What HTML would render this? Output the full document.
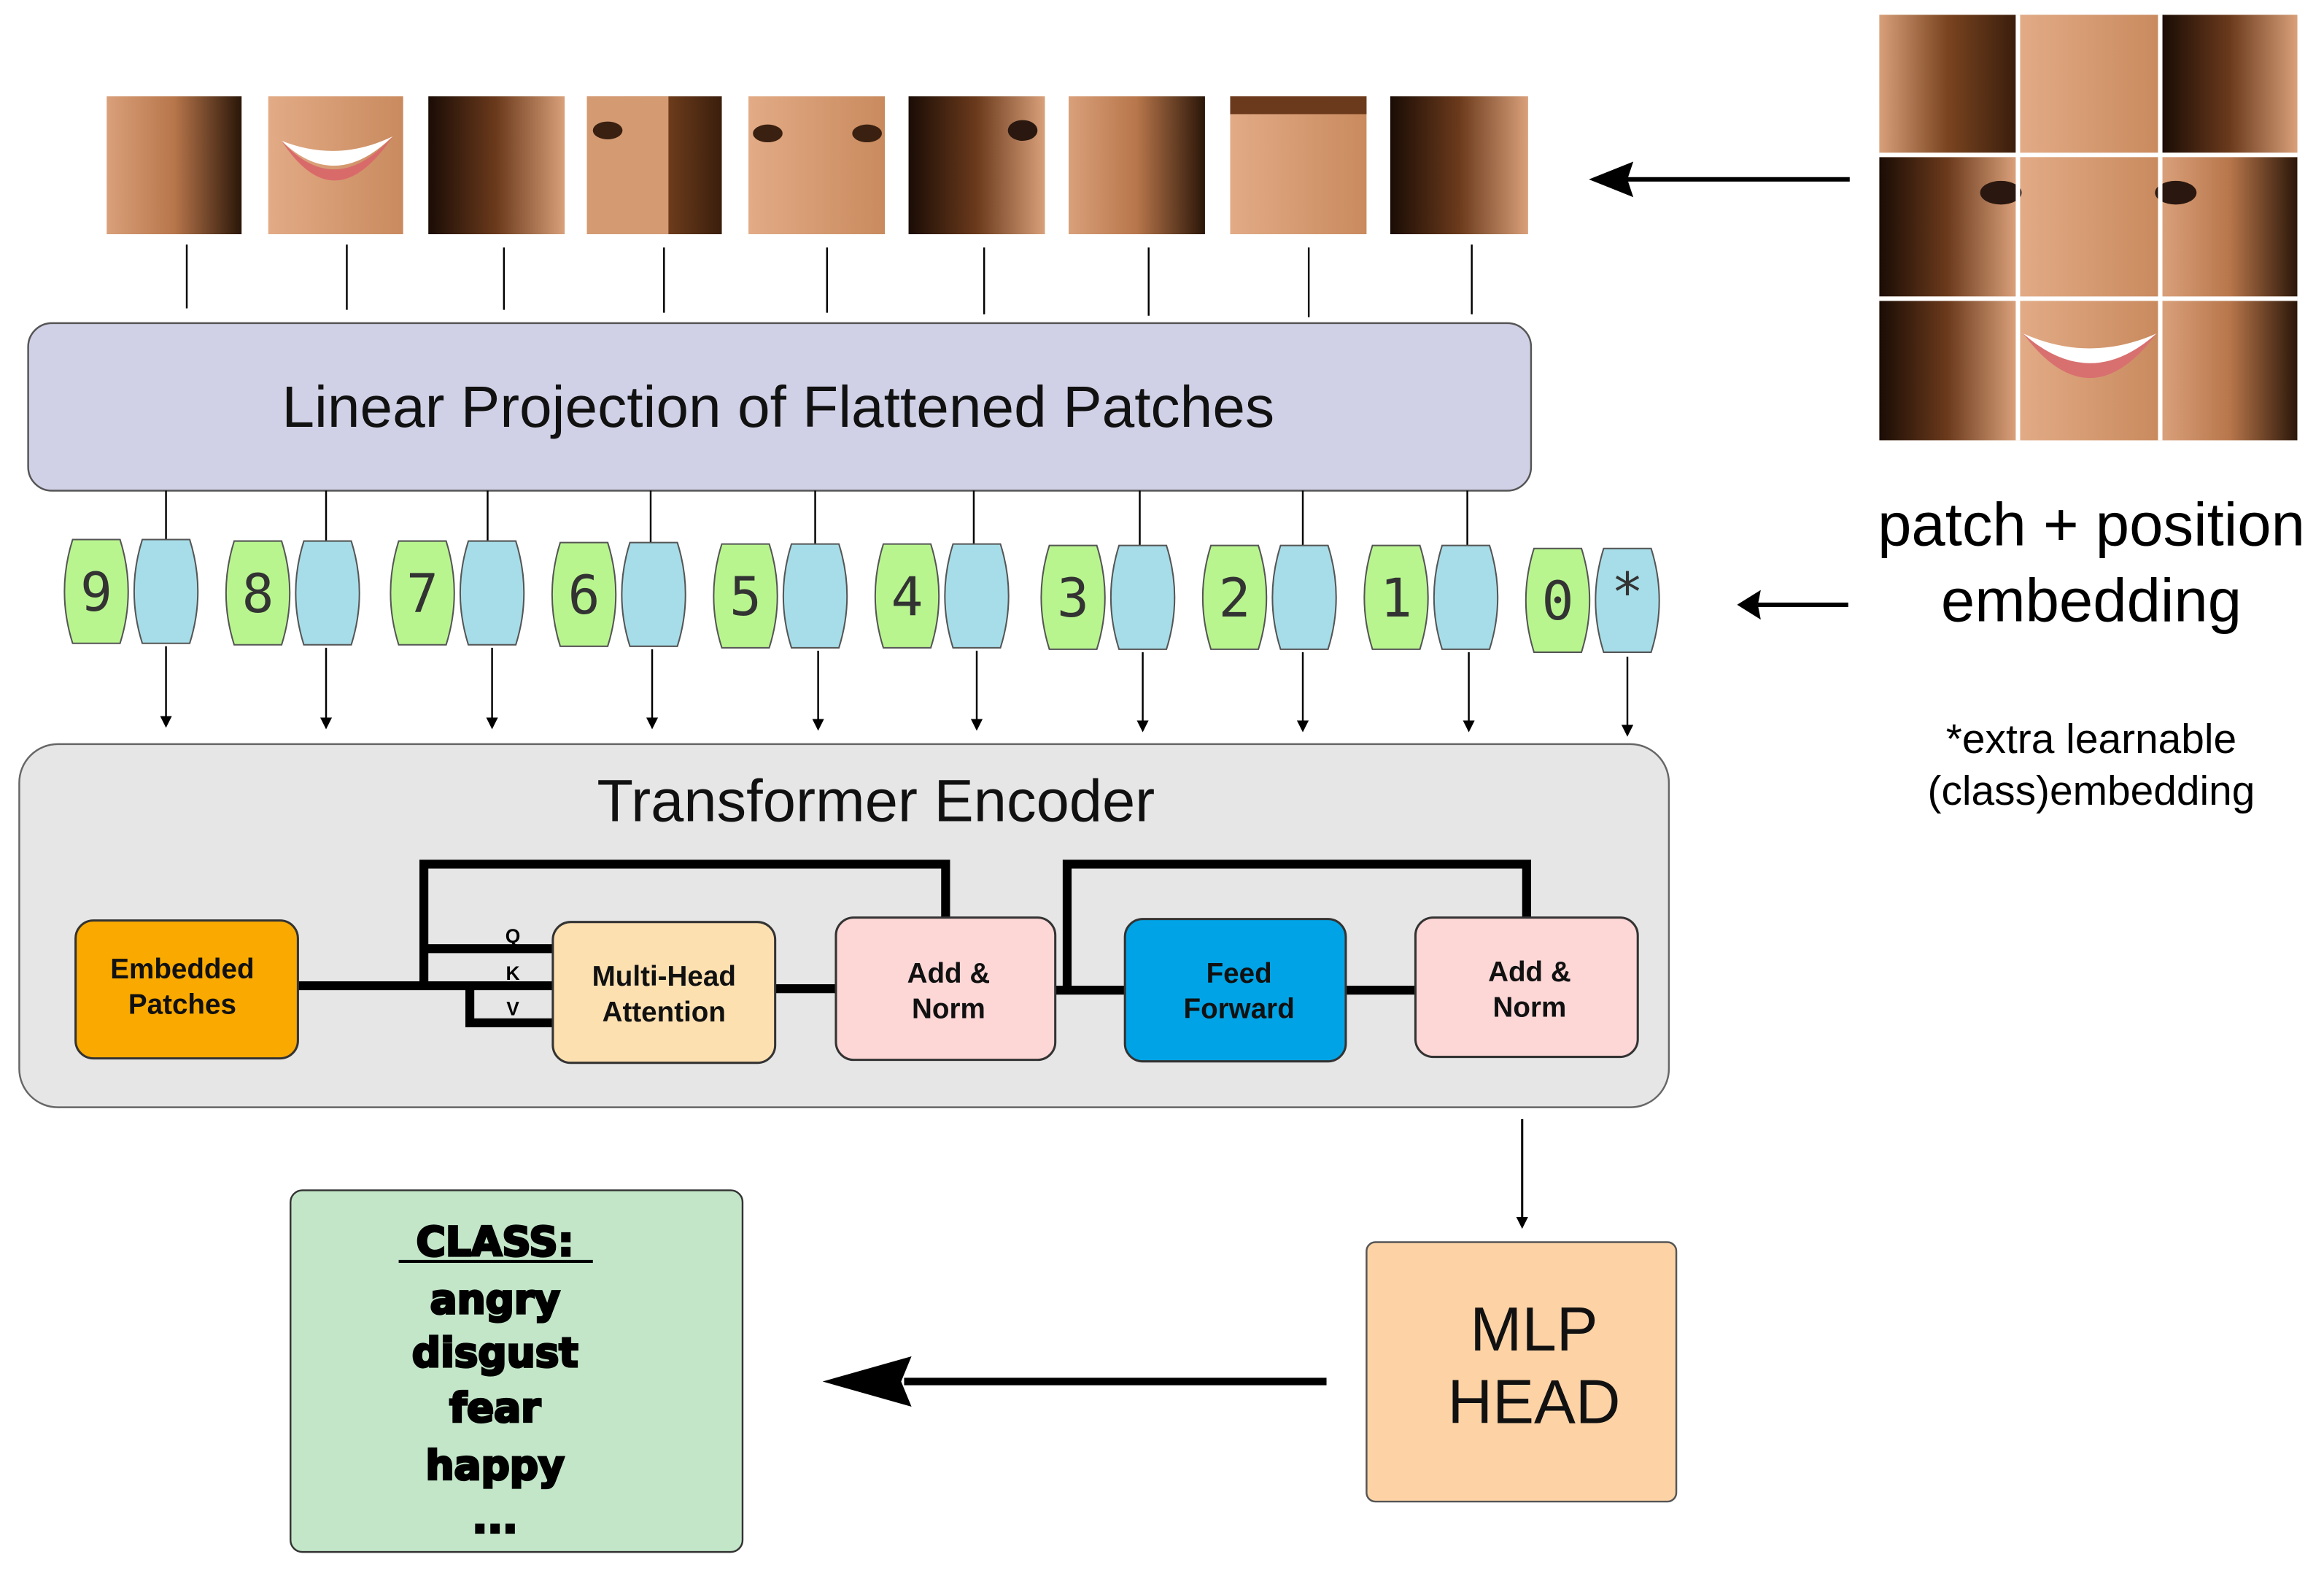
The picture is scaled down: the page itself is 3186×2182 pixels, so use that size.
<!DOCTYPE html>
<html><head><meta charset="utf-8"><style>
html,body{margin:0;padding:0;background:#fff;}
svg{display:block;}
</style></head><body>
<svg width="3186" height="2182" viewBox="0 0 1568 1074" preserveAspectRatio="none" xmlns="http://www.w3.org/2000/svg">
<defs>
<marker id="ah" markerWidth="8" markerHeight="8" refX="4" refY="4" orient="auto" markerUnits="userSpaceOnUse"><path d="M0,0 L8,4 L0,8 Z" fill="#000"/></marker>
<linearGradient id="sk1" x1="0" x2="1"><stop offset="0" stop-color="#d9a07a"/><stop offset="0.5" stop-color="#b8764b"/><stop offset="1" stop-color="#2a1608"/></linearGradient>
<linearGradient id="sk2" x1="0" x2="1"><stop offset="0" stop-color="#1a0c05"/><stop offset="0.5" stop-color="#6b3a1c"/><stop offset="1" stop-color="#d9a07a"/></linearGradient>
<linearGradient id="sk3" x1="0" x2="1"><stop offset="0" stop-color="#e2ab86"/><stop offset="1" stop-color="#c98a5e"/></linearGradient>
<linearGradient id="hair" x1="0" x2="1"><stop offset="0" stop-color="#d8a07a"/><stop offset="0.5" stop-color="#7a4420"/><stop offset="1" stop-color="#3a1e0c"/></linearGradient>
</defs>
<rect width="1568" height="1074" fill="#fff"/>

<!-- patches -->
<g>
<rect x="72" y="65" width="91" height="93" fill="url(#sk1)"/>
<rect x="181" y="65" width="91" height="93" fill="url(#sk3)"/>
<path d="M190,95 Q226,130 265,92 Q228,110 190,95Z" fill="#fff"/><path d="M190,95 Q226,150 265,92 Q226,135 190,95Z" fill="#d96a6a"/>
<rect x="289" y="65" width="92" height="93" fill="url(#sk2)"/>
<rect x="396" y="65" width="91" height="93" fill="url(#hair)"/>
<rect x="396" y="65" width="55" height="93" fill="#d49a72"/><ellipse cx="410" cy="88" rx="10" ry="6" fill="#3a2010"/>
<rect x="505" y="65" width="92" height="93" fill="url(#sk3)"/>
<ellipse cx="518" cy="90" rx="10" ry="6" fill="#3a2010"/><ellipse cx="585" cy="90" rx="10" ry="6" fill="#3a2010"/>
<rect x="613" y="65" width="92" height="93" fill="url(#sk2)"/><ellipse cx="690" cy="88" rx="10" ry="7" fill="#2a1810"/>
<rect x="721" y="65" width="92" height="93" fill="url(#sk1)"/>
<rect x="830" y="65" width="92" height="93" fill="url(#sk3)"/><rect x="830" y="65" width="92" height="12" fill="#6b3a1c"/>
<rect x="938" y="65" width="93" height="93" fill="url(#sk2)"/>
</g>
<g stroke="#000" stroke-width="1.2">
<line x1="126" y1="165" x2="126" y2="208"/><line x1="234" y1="165" x2="234" y2="209"/><line x1="340" y1="167" x2="340" y2="209"/>
<line x1="448" y1="167" x2="448" y2="211"/><line x1="558" y1="167" x2="558" y2="211"/><line x1="664" y1="167" x2="664" y2="212"/>
<line x1="775" y1="167" x2="775" y2="213"/><line x1="883" y1="167" x2="883" y2="214"/><line x1="993" y1="165" x2="993" y2="212"/>
</g>

<!-- big face -->
<g>
<rect x="1268" y="10" width="282" height="287" fill="#c58a60"/>
<rect x="1268" y="10" width="92" height="93" fill="url(#hair)"/>
<rect x="1363" y="10" width="93" height="93" fill="url(#sk3)"/>
<rect x="1459" y="10" width="91" height="93" fill="url(#sk2)"/>
<rect x="1268" y="106" width="92" height="94" fill="url(#sk2)"/>
<rect x="1363" y="106" width="93" height="94" fill="url(#sk3)"/>
<rect x="1459" y="106" width="91" height="94" fill="url(#sk1)"/>
<rect x="1268" y="203" width="92" height="94" fill="url(#sk2)"/>
<rect x="1363" y="203" width="93" height="94" fill="url(#sk3)"/>
<rect x="1459" y="203" width="91" height="94" fill="url(#sk1)"/>
<ellipse cx="1350" cy="130" rx="14" ry="8" fill="#2a1810"/><ellipse cx="1468" cy="130" rx="14" ry="8" fill="#2a1810"/>
<path d="M1365,225 Q1410,270 1455,225 Q1410,245 1365,225Z" fill="#fff"/>
<path d="M1365,225 Q1410,285 1455,225 Q1410,265 1365,225Z" fill="#d87070"/>
<rect x="1360" y="10" width="3" height="287" fill="#fff"/><rect x="1456" y="10" width="3" height="287" fill="#fff"/>
<rect x="1268" y="103" width="282" height="3" fill="#fff"/><rect x="1268" y="200" width="282" height="3" fill="#fff"/>
</g>
<line x1="1248" y1="121" x2="1095" y2="121" stroke="#000" stroke-width="3"/>
<path d="M1072,121 L1102,109 L1098,121 L1102,133 Z" fill="#000"/>

<!-- Linear projection -->
<rect x="19" y="218" width="1014" height="113" rx="16" fill="#d0d1e6" stroke="#555" stroke-width="1.2"/>
<text x="525" y="288" font-family="Liberation Sans, sans-serif" font-size="39.5" text-anchor="middle" fill="#111">Linear Projection of Flattened Patches</text>

<text x="1411" y="368" font-family="Liberation Sans, sans-serif" font-size="41" text-anchor="middle" fill="#000">patch + position</text>
<text x="1411" y="419" font-family="Liberation Sans, sans-serif" font-size="41" text-anchor="middle" fill="#000">embedding</text>
<text x="1411" y="508" font-family="Liberation Sans, sans-serif" font-size="28" text-anchor="middle" fill="#000">*extra learnable</text>
<text x="1411" y="543" font-family="Liberation Sans, sans-serif" font-size="28" text-anchor="middle" fill="#000">(class)embedding</text>
<line x1="1247" y1="408" x2="1186" y2="408" stroke="#000" stroke-width="3"/>
<path d="M1172,408 L1188,398 L1186,408 L1188,418 Z" fill="#000"/>

<!-- connectors from proj to tokens -->
<g stroke="#000" stroke-width="1.2">
<line x1="112" y1="331" x2="112" y2="364"/><line x1="220" y1="331" x2="220" y2="365"/><line x1="329" y1="331" x2="329" y2="365"/>
<line x1="439" y1="331" x2="439" y2="366"/><line x1="550" y1="331" x2="550" y2="367"/><line x1="657" y1="331" x2="657" y2="367"/>
<line x1="769" y1="331" x2="769" y2="368"/><line x1="879" y1="331" x2="879" y2="368"/><line x1="990" y1="331" x2="990" y2="368"/>
</g>

<!-- tokens -->
<g stroke="#555" stroke-width="1" font-family="DejaVu Sans Mono, Liberation Mono, monospace" font-size="36" fill="#333">
<g transform="translate(43,364)"><path d="M6,0 L38,0 Q49,35 38,70 L6,70 Q-5,35 6,0Z" fill="#b9f58f"/><path d="M53,0 L85,0 Q96,35 85,70 L53,70 Q42,35 53,0Z" fill="#a6dde8"/><text x="22" y="48" text-anchor="middle" stroke="none">9</text></g>
<g transform="translate(152,365)"><path d="M6,0 L38,0 Q49,35 38,70 L6,70 Q-5,35 6,0Z" fill="#b9f58f"/><path d="M53,0 L85,0 Q96,35 85,70 L53,70 Q42,35 53,0Z" fill="#a6dde8"/><text x="22" y="48" text-anchor="middle" stroke="none">8</text></g>
<g transform="translate(263,365)"><path d="M6,0 L38,0 Q49,35 38,70 L6,70 Q-5,35 6,0Z" fill="#b9f58f"/><path d="M53,0 L85,0 Q96,35 85,70 L53,70 Q42,35 53,0Z" fill="#a6dde8"/><text x="22" y="48" text-anchor="middle" stroke="none">7</text></g>
<g transform="translate(372,366)"><path d="M6,0 L38,0 Q49,35 38,70 L6,70 Q-5,35 6,0Z" fill="#b9f58f"/><path d="M53,0 L85,0 Q96,35 85,70 L53,70 Q42,35 53,0Z" fill="#a6dde8"/><text x="22" y="48" text-anchor="middle" stroke="none">6</text></g>
<g transform="translate(481,367)"><path d="M6,0 L38,0 Q49,35 38,70 L6,70 Q-5,35 6,0Z" fill="#b9f58f"/><path d="M53,0 L85,0 Q96,35 85,70 L53,70 Q42,35 53,0Z" fill="#a6dde8"/><text x="22" y="48" text-anchor="middle" stroke="none">5</text></g>
<g transform="translate(590,367)"><path d="M6,0 L38,0 Q49,35 38,70 L6,70 Q-5,35 6,0Z" fill="#b9f58f"/><path d="M53,0 L85,0 Q96,35 85,70 L53,70 Q42,35 53,0Z" fill="#a6dde8"/><text x="22" y="48" text-anchor="middle" stroke="none">4</text></g>
<g transform="translate(702,368)"><path d="M6,0 L38,0 Q49,35 38,70 L6,70 Q-5,35 6,0Z" fill="#b9f58f"/><path d="M53,0 L85,0 Q96,35 85,70 L53,70 Q42,35 53,0Z" fill="#a6dde8"/><text x="22" y="48" text-anchor="middle" stroke="none">3</text></g>
<g transform="translate(811,368)"><path d="M6,0 L38,0 Q49,35 38,70 L6,70 Q-5,35 6,0Z" fill="#b9f58f"/><path d="M53,0 L85,0 Q96,35 85,70 L53,70 Q42,35 53,0Z" fill="#a6dde8"/><text x="22" y="48" text-anchor="middle" stroke="none">2</text></g>
<g transform="translate(920,368)"><path d="M6,0 L38,0 Q49,35 38,70 L6,70 Q-5,35 6,0Z" fill="#b9f58f"/><path d="M53,0 L85,0 Q96,35 85,70 L53,70 Q42,35 53,0Z" fill="#a6dde8"/><text x="22" y="48" text-anchor="middle" stroke="none">1</text></g>
<g transform="translate(1029,370)"><path d="M6,0 L38,0 Q49,35 38,70 L6,70 Q-5,35 6,0Z" fill="#b9f58f"/><path d="M53,0 L85,0 Q96,35 85,70 L53,70 Q42,35 53,0Z" fill="#a6dde8"/><text x="22" y="48" text-anchor="middle" stroke="none">0</text><text x="69" y="42" text-anchor="middle" stroke="none">*</text></g>
</g>

<!-- arrows down to encoder -->
<g stroke="#000" stroke-width="1.2" marker-end="url(#ah)">
<line x1="112" y1="436" x2="112" y2="487"/><line x1="220" y1="437" x2="220" y2="488"/><line x1="332" y1="437" x2="332" y2="488"/>
<line x1="440" y1="438" x2="440" y2="488"/><line x1="552" y1="439" x2="552" y2="489"/><line x1="659" y1="439" x2="659" y2="489"/>
<line x1="771" y1="440" x2="771" y2="490"/><line x1="879" y1="440" x2="879" y2="490"/><line x1="991" y1="440" x2="991" y2="490"/>
<line x1="1098" y1="443" x2="1098" y2="493"/>
</g>

<!-- Encoder -->
<rect x="13" y="502" width="1113" height="245" rx="26" fill="#e6e6e6" stroke="#666" stroke-width="1.2"/>
<text x="591" y="554" font-family="Liberation Sans, sans-serif" font-size="40" text-anchor="middle" fill="#111">Transformer Encoder</text>

<g stroke="#000" stroke-width="6" fill="none">
<line x1="201" y1="665" x2="373" y2="665"/>
<polyline points="286,665 286,583 638,583 638,619"/>
<line x1="286" y1="640" x2="373" y2="640"/>
<polyline points="317,665 317,690 373,690"/>
<line x1="523" y1="667" x2="564" y2="667"/>
<line x1="712" y1="668" x2="759" y2="668"/>
<polyline points="720,668 720,583 1030,583 1030,619"/>
<line x1="908" y1="668" x2="955" y2="668"/>
</g>
<g font-family="Liberation Sans, sans-serif" font-size="13" font-weight="bold" text-anchor="middle" fill="#000">
<text x="346" y="636">Q</text><text x="346" y="661">K</text><text x="346" y="685">V</text>
</g>

<g stroke="#333" stroke-width="1.5" font-family="Liberation Sans, sans-serif" font-size="19" font-weight="bold" text-anchor="middle">
<rect x="51" y="621" width="150" height="93" rx="12" fill="#faa900"/>
<text x="123" y="660" fill="#111" stroke="none">Embedded</text><text x="123" y="684" fill="#111" stroke="none">Patches</text>
<rect x="373" y="622" width="150" height="95" rx="12" fill="#fde0b0"/>
<text x="448" y="665" fill="#111" stroke="none">Multi-Head</text><text x="448" y="689" fill="#111" stroke="none">Attention</text>
<rect x="564" y="619" width="148" height="96" rx="12" fill="#fdd6d6"/>
<text x="640" y="663" fill="#111" stroke="none">Add &amp;</text><text x="640" y="687" fill="#111" stroke="none">Norm</text>
<rect x="759" y="620" width="149" height="96" rx="12" fill="#00a4e6"/>
<text x="836" y="663" fill="#111" stroke="none">Feed</text><text x="836" y="687" fill="#111" stroke="none">Forward</text>
<rect x="955" y="619" width="150" height="94" rx="12" fill="#fdd6d6"/>
<text x="1032" y="662" fill="#111" stroke="none">Add &amp;</text><text x="1032" y="686" fill="#111" stroke="none">Norm</text>
</g>

<!-- MLP head -->
<line x1="1027" y1="755" x2="1027" y2="825" stroke="#000" stroke-width="1.5" marker-end="url(#ah)"/>
<rect x="922" y="838" width="209" height="175" rx="6" fill="#fdd3a6" stroke="#555" stroke-width="1.2"/>
<text x="1035" y="911" font-family="Liberation Sans, sans-serif" font-size="42" text-anchor="middle" fill="#111">MLP</text>
<text x="1035" y="960" font-family="Liberation Sans, sans-serif" font-size="42" text-anchor="middle" fill="#111">HEAD</text>

<line x1="895" y1="932" x2="610" y2="932" stroke="#000" stroke-width="5"/>
<path d="M555,932 L615,915 L608,932 L615,949 Z" fill="#000"/>

<!-- class box -->
<rect x="196" y="803" width="305" height="244" rx="8" fill="#c3e6c9" stroke="#333" stroke-width="1.2"/>
<g font-family="DejaVu Sans, Liberation Sans, sans-serif" font-size="27" font-weight="900" text-anchor="middle" fill="#000" stroke="#000" stroke-width="1.6">
<text x="334" y="847">CLASS:</text>
<text x="334" y="886">angry</text>
<text x="334" y="922">disgust</text>
<text x="334" y="959">fear</text>
<text x="334" y="998">happy</text>
<text x="334" y="1034">...</text>
</g>
<line x1="269" y1="851" x2="400" y2="851" stroke="#000" stroke-width="2"/>
</svg>
</body></html>
